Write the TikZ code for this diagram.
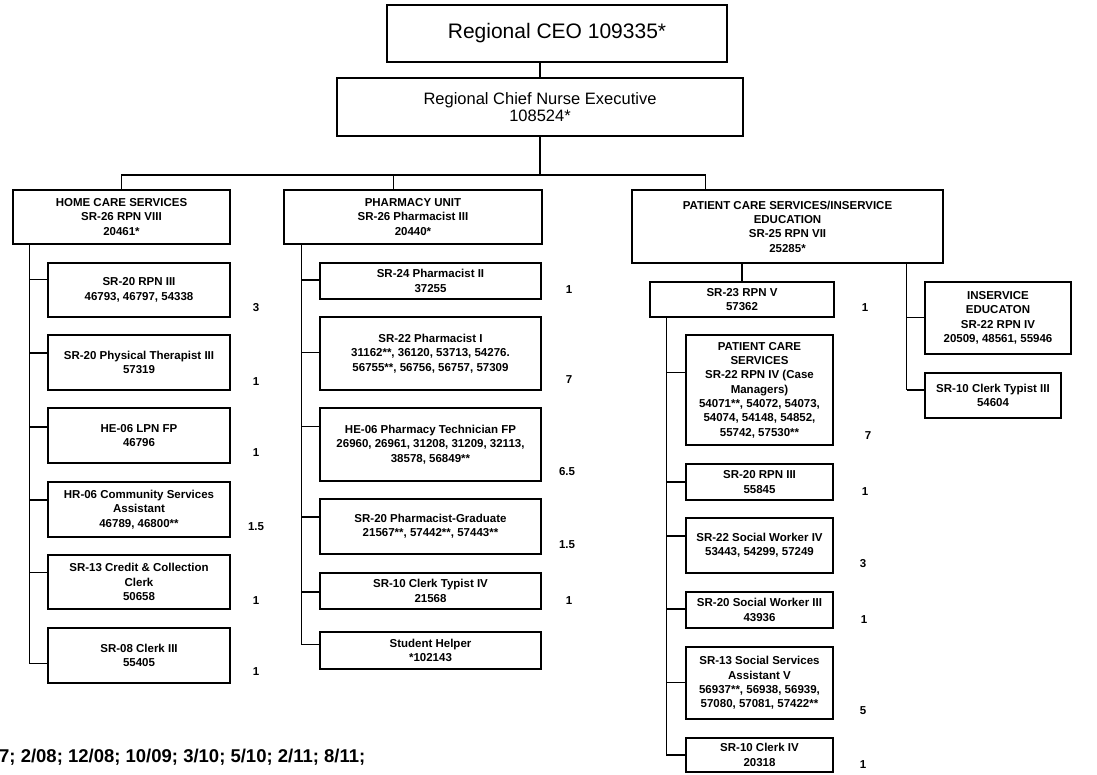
\documentclass[tikz,border=0pt]{standalone}
\usepackage{fontspec}
\setmainfont{Liberation Sans}
\usetikzlibrary{calc}
\tikzset{
  box/.style={draw, line width=1.3pt, inner sep=0pt, align=center,
    font=\fontsize{11.5}{14.3}\selectfont\bfseries},
  topbox/.style={draw, line width=1.3pt, inner sep=0pt, align=center},
  link/.style={line width=1.3pt},
  num/.style={inner sep=0pt, font=\fontsize{11.5}{14}\selectfont\bfseries},
}
\newcommand\mytick[4]{%
  \coordinate (#4) at ($(#2.north west)!#3!(#2.south west)$);
  \draw[link] (#1 |- #4) -- (#4);}
\begin{document}
\begin{tikzpicture}[x=1pt,y=-1pt]
\useasboundingbox (0,0) rectangle (1097,774);
% top
\node[topbox, minimum width=340pt, minimum height=57pt, font=\fontsize{21}{24}\selectfont] (ceo) at (557,33.5) {Regional CEO 109335*};
\node[topbox, minimum width=406pt, minimum height=58pt, font=\fontsize{16.5}{17.5}\selectfont] (cne) at (540,107) {Regional Chief Nurse Executive\\108524*};
% level 2
\node[box, minimum width=217pt, minimum height=54pt] (hc) at (121.5,217) {HOME CARE SERVICES\\SR-26 RPN VIII\\20461*};
\node[box, minimum width=258pt, minimum height=54pt] (ph) at (413,217) {PHARMACY UNIT\\SR-26 Pharmacist III\\20440*};
\node[box, minimum width=311pt, minimum height=73pt] (pcs) at (787.5,226.5) {PATIENT CARE SERVICES/INSERVICE\\EDUCATION\\SR-25 RPN VII\\25285*};
% home care children
\node[box, minimum width=182pt, minimum height=54pt] (b1) at (139,290) {SR-20 RPN III\\46793, 46797, 54338};
\node[box, minimum width=182pt, minimum height=55pt] (b2) at (139,362.5) {SR-20 Physical Therapist III\\57319};
\node[box, minimum width=182pt, minimum height=55pt] (b3) at (139,435.5) {HE-06 LPN FP\\46796};
\node[box, minimum width=182pt, minimum height=55pt] (b4) at (139,509.5) {HR-06 Community Services\\Assistant\\46789, 46800**};
\node[box, minimum width=182pt, minimum height=54pt] (b5) at (139,582) {SR-13 Credit \& Collection\\Clerk\\50658};
\node[box, minimum width=182pt, minimum height=55pt] (b6) at (139,655.5) {SR-08 Clerk III\\55405};
% pharmacy children
\node[box, minimum width=221pt, minimum height=36pt] (p1) at (430.5,281) {SR-24 Pharmacist II\\37255};
\node[box, minimum width=221pt, minimum height=73pt] (p2) at (430.5,353.5) {SR-22 Pharmacist I\\31162**, 36120, 53713, 54276.\\56755**, 56756, 56757, 57309};
\node[box, minimum width=221pt, minimum height=73pt] (p3) at (430.5,444.5) {HE-06 Pharmacy Technician FP\\26960, 26961, 31208, 31209, 32113,\\38578, 56849**};
\node[box, minimum width=221pt, minimum height=55pt] (p4) at (430.5,526.5) {SR-20 Pharmacist-Graduate\\21567**, 57442**, 57443**};
\node[box, minimum width=221pt, minimum height=36pt] (p5) at (430.5,591) {SR-10 Clerk Typist IV\\21568};
\node[box, minimum width=221pt, minimum height=37pt] (p6) at (430.5,650.5) {Student Helper\\*102143};
% patient care children
\node[box, minimum width=184pt, minimum height=35pt] (rv) at (742,299.5) {SR-23 RPN V\\57362};
\node[box, minimum width=147pt, minimum height=110pt] (r1) at (759.5,390) {PATIENT CARE\\SERVICES\\SR-22 RPN IV (Case\\Managers)\\54071**, 54072, 54073,\\54074, 54148, 54852,\\55742, 57530**};
\node[box, minimum width=147pt, minimum height=36pt] (r2) at (759.5,482) {SR-20 RPN III\\55845};
\node[box, minimum width=147pt, minimum height=55pt] (r3) at (759.5,545.5) {SR-22 Social Worker IV\\53443, 54299, 57249};
\node[box, minimum width=147pt, minimum height=36pt] (r4) at (759.5,610) {SR-20 Social Worker III\\43936};
\node[box, minimum width=147pt, minimum height=72pt] (r5) at (759.5,683) {SR-13 Social Services\\Assistant V\\56937**, 56938, 56939,\\57080, 57081, 57422**};
\node[box, minimum width=147pt, minimum height=34pt] (r6) at (759.5,755) {SR-10 Clerk IV\\20318};
\node[box, minimum width=146pt, minimum height=72pt] (i1) at (998,318) {INSERVICE\\EDUCATON\\SR-22 RPN IV\\20509, 48561, 55946};
\node[box, minimum width=136pt, minimum height=45pt] (i2) at (993,395.5) {SR-10 Clerk Typist III\\54604};
% top connectors
\draw[link] (ceo.south -| cne.north) -- (cne.north);
\coordinate (bus) at (cne.south |- 0,175);
\coordinate (phin) at ([xshift=110pt]ph.north west);
\coordinate (pcsin) at ([xshift=74pt]pcs.north west);
\draw[link] (cne.south) -- (bus);
\draw[link] (hc.north) |- (bus) -| (pcsin);
\draw[link] (phin) -- (phin |- bus);
% home care spine
\coordinate (hcs) at ([xshift=17pt]hc.south west);
\mytick{hcs}{b1}{0.31}{t1}
\mytick{hcs}{b2}{0.33}{t2}
\mytick{hcs}{b3}{0.35}{t3}
\mytick{hcs}{b4}{0.33}{t4}
\mytick{hcs}{b5}{0.33}{t5}
\mytick{hcs}{b6}{0.64}{t6}
\draw[link] (hcs) -- (hcs |- t6);
% pharmacy spine
\coordinate (phs) at ([xshift=18pt]ph.south west);
\mytick{phs}{p1}{0.47}{u1}
\mytick{phs}{p2}{0.49}{u2}
\mytick{phs}{p3}{0.26}{u3}
\mytick{phs}{p4}{0.33}{u4}
\mytick{phs}{p5}{0.53}{u5}
\mytick{phs}{p6}{0.35}{u6}
\draw[link] (phs) -- (phs |- u6);
% patient care
\draw[link] (rv.north) -- (rv.north |- pcs.south);
\coordinate (rvs) at ([xshift=17pt]rv.south west);
\mytick{rvs}{r1}{0.34}{v1}
\mytick{rvs}{r2}{0.50}{v2}
\mytick{rvs}{r3}{0.33}{v3}
\mytick{rvs}{r4}{0.47}{v4}
\mytick{rvs}{r5}{0.49}{v5}
\mytick{rvs}{r6}{0.50}{v6}
\draw[link] (rvs) -- (rvs |- v6);
\coordinate (pcss) at ([xshift=-37pt]pcs.south east);
\mytick{pcss}{i1}{0.49}{w1}
\mytick{pcss}{i2}{0.38}{w2}
\draw[link] (pcss) -- (pcss |- w2);
% counts
\node[num] (n1) at (256,308) {3};
\node[num] (n2) at (256,382) {1};
\node[num] (n3) at (256,453) {1};
\node[num] (n4) at (256,527) {1.5};
\node[num] (n5) at (256,601) {1};
\node[num] (n6) at (256,672) {1};
\node[num] (m1) at (569,290) {1};
\node[num] (m2) at (569,380) {7};
\node[num] (m3) at (567,472) {6.5};
\node[num] (m4) at (567,545) {1.5};
\node[num] (m5) at (569,601) {1};
\node[num] (k1) at (865,308) {1};
\node[num] (k2) at (868,436) {7};
\node[num] (k3) at (865,492) {1};
\node[num] (k4) at (863,564) {3};
\node[num] (k5) at (864,620) {1};
\node[num] (k6) at (863,711) {5};
\node[num] (k7) at (863,765) {1};
% footer
\node[anchor=west, inner sep=0pt, font=\fontsize{18.5}{20}\selectfont\bfseries] (dates) at (-1,757) {7; 2/08; 12/08; 10/09; 3/10; 5/10; 2/11; 8/11;};
\end{tikzpicture}
\end{document}
